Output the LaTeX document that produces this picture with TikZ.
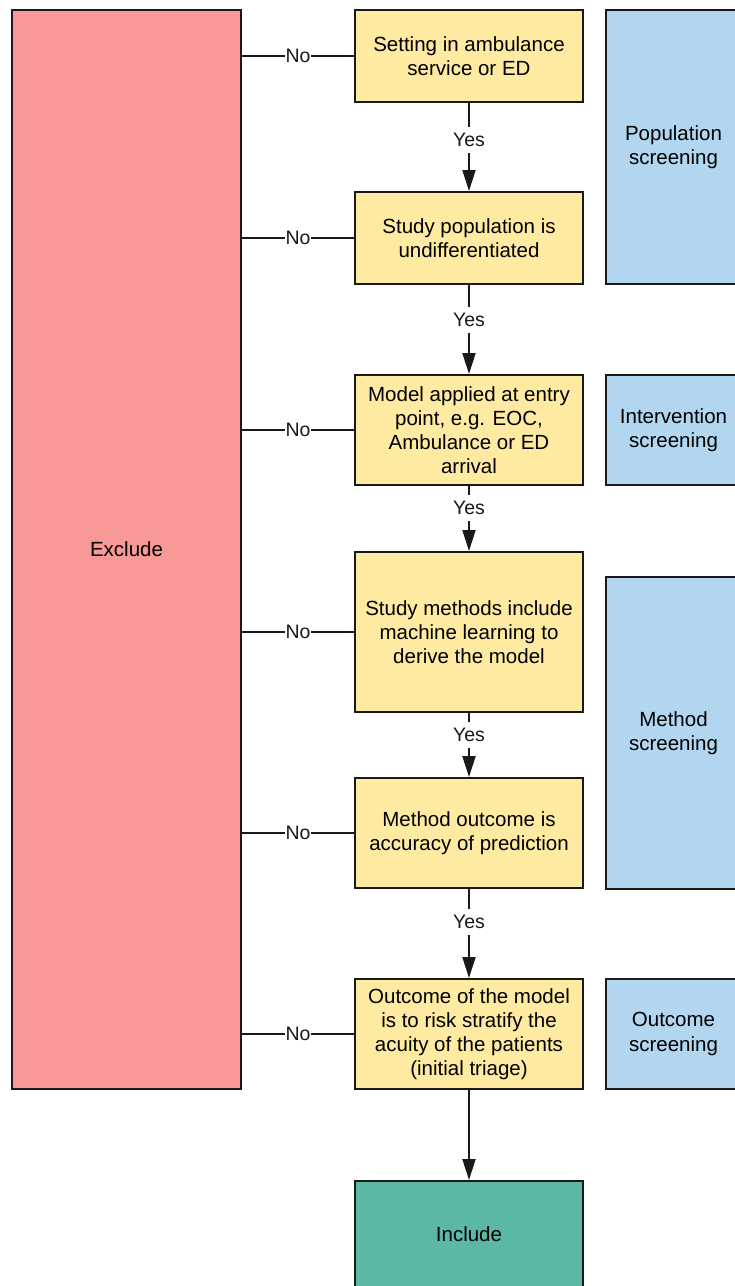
\documentclass[tikz,border=0pt]{standalone}
\usepackage{fontspec}
\setmainfont{Liberation Sans}
\usetikzlibrary{arrows.meta}

\definecolor{stepyellow}{RGB}{255,234,161}
\definecolor{groupblue}{RGB}{179,214,240}
\definecolor{excludered}{RGB}{248,153,152}
\definecolor{includegreen}{RGB}{91,184,167}

\begin{document}
\begin{tikzpicture}[x=1pt,y=-1pt,
  every node/.style={font=\fontsize{20.5}{24.2}\selectfont, align=center},
  basebox/.style={draw=black!90, line width=2pt, inner sep=0pt, minimum width=228pt},
  stepbox/.style={basebox, fill=stepyellow},
  groupbox/.style={basebox, fill=groupblue, minimum width=135pt},
  lbl/.style={fill=white, font=\fontsize{19.5}{23}\selectfont, inner xsep=0.5pt,
              inner ysep=0pt, minimum height=26pt},
  conn/.style={line width=2pt, black!90},
  arr/.style={conn, -{Triangle[length=21pt, width=13pt]}}
]
\useasboundingbox (0,0) rectangle (735,1286);

% exclusion column
\node[basebox, fill=excludered, minimum width=229pt, minimum height=1079pt]
  (excl) at (126.5,549.5) {Exclude};

% screening steps
\node[stepbox, minimum height=92pt]  (b1) at (469,56)    {Setting in ambulance\\service or ED};
\node[stepbox, minimum height=92pt]  (b2) at (469,238)   {Study population is\\undifferentiated};
\node[stepbox, minimum height=110pt] (b3) at (469,430)   {Model applied at entry\\point, e.g. EOC,\\Ambulance or ED\\arrival};
\node[stepbox, minimum height=160pt] (b4) at (469,632)   {Study methods include\\machine learning to\\derive the model};
\node[stepbox, minimum height=110pt] (b5) at (469,833)   {Method outcome is\\accuracy of prediction};
\node[stepbox, minimum height=110pt] (b6) at (469,1034)  {Outcome of the model\\is to risk stratify the\\acuity of the patients\\(initial triage)};
\node[basebox, fill=includegreen, minimum height=106pt] (inc) at (469,1234) {Include};

% screening groups
\node[groupbox, minimum height=274pt] (pop) at (673.5,147)  {Population\\screening};
\node[groupbox, minimum height=110pt] (int) at (673.5,430)  {Intervention\\screening};
\node[groupbox, minimum height=312pt] (met) at (673.5,733)  {Method\\screening};
\node[groupbox, minimum height=110pt] (out) at (673.5,1034) {Outcome\\screening};

% "No" branches to the exclusion column
\foreach \b in {b1,b2,b3,b4,b5,b6}
  \draw[conn] (\b.west) -- node[lbl]{No} (\b.west -| excl.east);

% "Yes" flow down the steps
\draw[arr] (b1) -- node[lbl, pos=0.424]{Yes} (b2);
\draw[arr] (b2) -- node[lbl, pos=0.396]{Yes} (b3);
\draw[arr] (b3) -- node[lbl, pos=0.343]{Yes} (b4);
\draw[arr] (b4) -- node[lbl, pos=0.348]{Yes} (b5);
\draw[arr] (b5) -- node[lbl, pos=0.370]{Yes} (b6);
\draw[arr] (b6) -- (inc);
\end{tikzpicture}
\end{document}
